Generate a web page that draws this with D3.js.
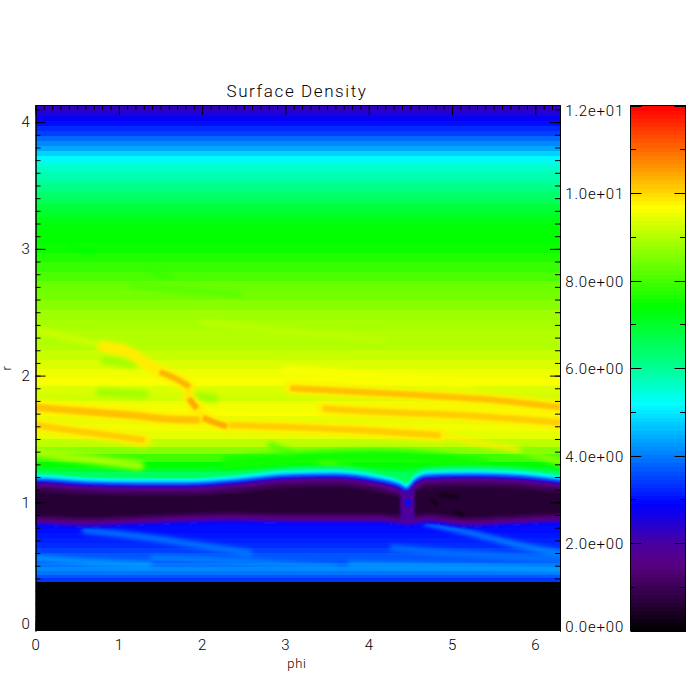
<!DOCTYPE html>
<html>
<head>
<meta charset="utf-8">
<script src="https://cdn.jsdelivr.net/npm/d3@7"></script>
<style>
  body { margin: 0; background: #fff; }
  text { font-family: "Roboto", "Liberation Sans", sans-serif; font-weight: 300; fill: #000; letter-spacing: 0.8px; }
</style>
</head>
<body>
<div id="chart"></div>
<script>
// Radial profile of the disc: lower edge of each band and its density.
var bandR = [4.09, 4.05, 4.01, 3.97, 3.93, 3.89, 3.85, 3.81, 3.77, 3.73, 3.69, 3.65, 3.61, 3.55, 3.5, 3.45, 3.4, 3.35, 3.3, 3.25, 3.2, 3.15, 3.05, 2.97, 2.9, 2.82, 2.75, 2.68, 2.6, 2.52, 2.44, 2.36, 2.28, 2.2, 2.12, 2.05, 1.98, 1.92, 1.86, 1.8, 1.74, 1.68, 1.62, 1.56, 1.5, 1.44, 1.38, 1.32, 1.28, 1.24, 1.0, 0.84, 0.8, 0.76, 0.72, 0.68, 0.64, 0.6, 0.56, 0.52, 0.49, 0.46, 0.43, 0.4, 0.375, -0.015];
var bandV = [2.3, 2.5, 2.8, 3.0, 3.3, 3.5, 3.8, 4.1, 4.4, 4.8, 5.2, 5.4, 5.6, 5.8, 6.0, 6.2, 6.4, 6.6, 6.8, 7.0, 7.2, 7.3, 7.4, 7.5, 7.7, 7.9, 8.1, 8.3, 8.4, 8.6, 8.8, 8.9, 9.0, 9.0, 9.2, 9.35, 9.6, 9.7, 9.4, 9.3, 9.6, 9.7, 9.5, 9.6, 9.5, 9.1, 8.6, 8.0, 7.4, 7.0, 6.6, 3.0, 3.0, 3.0, 3.1, 3.2, 3.3, 3.5, 3.7, 3.7, 3.9, 4.1, 3.9, 3.7, 3.4, 0];

// Gap around r = 1: blue edge lines per phi column.
var gapPhi = [-0.1, 0, 0.6, 1.2, 1.8, 2.4, 3.0, 3.6, 4.1, 4.38, 4.45, 4.55, 4.7, 5.2, 5.7, 6.3, 6.4];
var gapTop = [1.176, 1.176, 1.153, 1.145, 1.145, 1.168, 1.208, 1.216, 1.176, 1.129, 1.105, 1.168, 1.208, 1.216, 1.208, 1.168, 1.16];
var gapBottom = [0.813, 0.813, 0.798, 0.813, 0.829, 0.837, 0.829, 0.829, 0.829, 0.813, 0.806, 0.813, 0.829, 0.798, 0.813, 0.829, 0.829];
var gapLevelV = [6.5, 5.2, 4.0, 3.0, 2.4, 2.0, 1.5, 1.0, 0.7];
var gapInsetTop = [-0.075, -0.04, -0.02, 0, 0.012, 0.022, 0.035, 0.055, 0.09];
var gapInsetBottom = [0.05, 0.05, 0.05, 0, 0.012, 0.022, 0.04, 0.06, 0.085];

// Sharp spiral wakes.
var ridgePhi = [
  [0.81, 1.10, 1.29, 1.49], [1.49, 1.70, 1.85], [1.85, 1.82], [1.84, 1.94], [2.01, 2.15, 2.30],
  [0, 0.53, 1.13, 1.55, 1.97], [2.33, 3.18, 3.86, 4.86], [0, 0.41, 0.77, 1.31],
  [3.06, 4.46, 5.46, 6.30], [3.45, 4.26, 5.06, 6.30]
];
var ridgeR = [
  [2.23, 2.19, 2.11, 2.03], [2.03, 1.97, 1.91], [1.91, 1.82], [1.82, 1.74], [1.67, 1.63, 1.60],
  [1.75, 1.72, 1.69, 1.66, 1.65], [1.61, 1.59, 1.57, 1.53], [1.61, 1.57, 1.54, 1.49],
  [1.90, 1.85, 1.81, 1.75], [1.74, 1.71, 1.69, 1.63]
];
var ridgeV = [9.8, 10.3, 9.9, 10.4, 10.4, 10.2, 10.1, 10.1, 10.2, 10.1];
var ridgeW = [5, 6, 3, 6, 6, 7, 6, 6, 6, 6];
var ridgeHaloV = 9.8;

// Broad, low-contrast streaks around them.
var streakPhi = [
  [0.05, 0.41, 0.77], [4.86, 5.3, 5.85], [0.83, 1.19], [0.77, 1.31], [1.91, 2.15],
  [2.82, 3.54, 4.08], [0, 0.29, 0.77, 1.25], [5.85, 6.30], [2.3, 3.5, 4.5, 5.4],
  [0.41, 0.69], [1.37, 1.61], [1.17, 2.45], [3.0, 4.2, 5.2], [2.0, 3.0, 4.2],
  [4.68, 5.34, 5.82, 6.30], [0.59, 1.37, 1.97, 2.57], [0, 0.65, 1.37], [4.29, 4.98, 6.30], [3.78, 5.22, 6.30], [1.4, 2.6, 3.6]
];
var streakR = [
  [2.36, 2.30, 2.24], [1.53, 1.47, 1.41], [2.12, 2.09], [1.87, 1.85], [1.84, 1.82],
  [1.45, 1.29, 1.19], [1.40, 1.37, 1.33, 1.29], [1.41, 1.32], [1.31, 1.36, 1.36, 1.29],
  [3.03, 2.97], [2.83, 2.78], [2.71, 2.64], [2.05, 1.99, 1.93], [2.42, 2.35, 2.28],
  [0.84, 0.74, 0.66, 0.60], [0.78, 0.72, 0.66, 0.60], [0.56, 0.53, 0.51], [0.64, 0.60, 0.55], [0.51, 0.49, 0.47], [0.56, 0.53, 0.49]
];
var streakV = [9.3, 9.8, 8.8, 8.8, 8.8, 8.2, 8.9, 8.6, 7.5, 7.4, 7.9, 8.2, 9.7, 9.1, 4.2, 4.0, 4.4, 3.9, 4.3, 4.2];
var streakW = [5, 5, 8, 8, 8, 6, 9, 7, 12, 6, 5, 6, 7, 6, 5, 6, 5, 6, 5, 4];

// Planet inside the gap and the dark clumps behind it.
var planetPhi = 4.47, planetR = 0.995, planetV = 3;
var clumpPhi = [[4.87, 5.06], [4.75, 4.81], [5.05, 5.12]];
var clumpR = [[1.06, 1.04], [1.02, 0.99], [0.92, 0.90]];
var clumpV = 0.35;

// Colour table
var colorStops = [0, 0.5, 1, 1.5, 2, 2.9, 5.2, 6.2, 7.4, 9.7, 10.5, 12];
var colorValues = ["#000000", "#1e0028", "#3c0055", "#580080", "#4a00a0", "#0000ff", "#00ffff", "#00ff80", "#00ff00", "#ffff00", "#ffa000", "#ff0000"];

// Axis ticks
var phiTicks = [0, 1, 2, 3, 4, 5, 6];
var rTicks = [0, 1, 2, 3, 4];
var barTicks = [0, 2, 4, 6, 8, 10, 12];
var barTickLabels = ["0.0e+00", "2.0e+00", "4.0e+00", "6.0e+00", "8.0e+00", "1.0e+01", "1.2e+01"];
var barMinorTicks = [1, 3, 5, 7, 9, 11];

var left = 35.5, right = 560, top_ = 105, bottom = 631;
var barLeft = 630.5, barRight = 685.5;

var x = d3.scaleLinear().domain([0, 6.296]).range([left, right]);
var y = d3.scaleLinear().domain([-0.015, 4.135]).range([bottom, top_]);
var barY = d3.scaleLinear().domain([0, 12]).range([630.5, 105.5]);

var smooth = d3.scaleLinear().domain(colorStops).range(colorValues).interpolate(d3.interpolateRgb);
// The table is posterised, so snap every value to one of its levels
function color(v) {
  return smooth(Math.round(v / 12 * 128) / 128 * 12);
}

var svg = d3.select("#chart").append("svg")
  .attr("width", 700)
  .attr("height", 700);

var defs = svg.append("defs");
defs.append("clipPath").attr("id", "plot").append("rect")
  .attr("x", left).attr("y", top_).attr("width", right - left).attr("height", bottom - top_);
[["fine", 1.3], ["wide", 2.6]].forEach(function(f) {
  defs.append("filter").attr("id", f[0]).attr("filterUnits", "userSpaceOnUse")
    .attr("x", 0).attr("y", 0).attr("width", 700).attr("height", 700)
    .append("feGaussianBlur").attr("stdDeviation", f[1]);
});

var plot = svg.append("g").attr("clip-path", "url(#plot)");

// Radial bands
plot.selectAll("rect.band")
  .data(bandR)
  .enter().append("rect")
  .attr("class", "band")
  .attr("x", left)
  .attr("width", right - left)
  .attr("y", function(d, i) { return y(i == 0 ? 4.135 : bandR[i - 1]); })
  .attr("height", function(d, i) { return y(d) - y(i == 0 ? 4.135 : bandR[i - 1]) + 1; })
  .attr("fill", function(d, i) { return color(bandV[i]); })
  .attr("shape-rendering", "crispEdges");

var ridgeLine = d3.line()
  .x(function(d) { return x(d[0]); })
  .y(function(d) { return y(d[1]); })
  .curve(d3.curveCatmullRom);

// Broad streaks first
plot.append("g").attr("filter", "url(#wide)")
  .selectAll("path")
  .data(streakPhi)
  .enter().append("path")
  .attr("d", function(d, i) { return ridgeLine(d3.zip(d, streakR[i])); })
  .attr("fill", "none")
  .attr("stroke", function(d, i) { return color(streakV[i]); })
  .attr("stroke-width", function(d, i) { return streakW[i]; })
  .attr("stroke-linecap", "round");

// Yellow halo under each wake, then the wake itself
plot.append("g").attr("filter", "url(#wide)")
  .selectAll("path")
  .data(ridgePhi)
  .enter().append("path")
  .attr("d", function(d, i) { return ridgeLine(d3.zip(d, ridgeR[i])); })
  .attr("fill", "none")
  .attr("stroke", color(ridgeHaloV))
  .attr("stroke-width", function(d, i) { return ridgeW[i] + 7; })
  .attr("stroke-linecap", "round");

plot.append("g").attr("filter", "url(#fine)")
  .selectAll("path")
  .data(ridgePhi)
  .enter().append("path")
  .attr("d", function(d, i) { return ridgeLine(d3.zip(d, ridgeR[i])); })
  .attr("fill", "none")
  .attr("stroke", function(d, i) { return color(ridgeV[i]); })
  .attr("stroke-width", function(d, i) { return ridgeW[i]; })
  .attr("stroke-linecap", "butt");

// Gap, nested from the halo down to the darkest part
var gap = plot.append("g").attr("filter", "url(#fine)");
gapLevelV.forEach(function(v, k) {
  var area = d3.area()
    .defined(function(i) {
      // Below this level the gap splits in two lobes at the planet
      return v > 1.5 || gapPhi[i] < 4.4 || gapPhi[i] > 4.5;
    })
    .x(function(i) { return x(gapPhi[i]); })
    .y0(function(i) { return y(gapBottom[i] + gapInsetBottom[k]); })
    .y1(function(i) { return y(gapTop[i] - gapInsetTop[k]); })
    .curve(d3.curveMonotoneX);
  gap.append("path")
    .attr("d", area(d3.range(gapPhi.length)))
    .attr("fill", color(v));
});

gap.selectAll("path.clump")
  .data(clumpPhi)
  .enter().append("path")
  .attr("class", "clump")
  .attr("d", function(d, i) { return ridgeLine(d3.zip(d, clumpR[i])); })
  .attr("fill", "none")
  .attr("stroke", color(clumpV))
  .attr("stroke-width", 5)
  .attr("stroke-linecap", "round");

plot.append("circle")
  .attr("cx", x(planetPhi))
  .attr("cy", y(planetR))
  .attr("r", 3)
  .attr("fill", color(planetV));

// Axes, IDL style: ticks point inwards on all four sides
function drawAxis(maker, scale, values, size, tx, ty, labels) {
  var axis = maker(scale).tickValues(values).tickSize(-size).tickSizeOuter(0)
    .tickFormat(labels ? d3.format("d") : "");
  var g = svg.append("g").attr("transform", "translate(" + tx + "," + ty + ")").call(axis);
  g.selectAll("line").attr("stroke", "#000");
  g.select(".domain").attr("stroke", "#000");
  return g;
}

var phiMinor = d3.range(0, 6.3, 0.1);
var rMinor = d3.range(0, 4.13, 0.1);

drawAxis(d3.axisTop, x, phiMinor, 5, 0, top_, false);
drawAxis(d3.axisTop, x, phiTicks, 10, 0, top_, false);
drawAxis(d3.axisRight, y, rMinor, 5, right, 0, false);
drawAxis(d3.axisRight, y, rTicks, 10, right, 0, false);
drawAxis(d3.axisLeft, y, rMinor, 5, left, 0, false);
drawAxis(d3.axisBottom, x, phiTicks, 10, 0, bottom, true)
  .call(function(g) {
    g.selectAll("text").attr("font-size", 15).attr("y", 8);
    g.select(".domain").attr("stroke", "none");
  });
drawAxis(d3.axisLeft, y, rTicks, 10, left, 0, true)
  .call(function(g) {
    g.selectAll("text").attr("font-size", 15).attr("x", -5)
      .attr("dy", function(d) { return d == 0 ? "-0.02em" : "0.32em"; });
  });

// Colour bar
svg.append("g").selectAll("rect")
  .data(d3.range(128))
  .enter().append("rect")
  .attr("x", barLeft)
  .attr("width", barRight - barLeft)
  .attr("y", function(d) { return barY((d + 1) * 12 / 128); })
  .attr("height", function(d) { return barY(d * 12 / 128) - barY((d + 1) * 12 / 128) + 1; })
  .attr("fill", function(d) { return smooth((d + 0.5) * 12 / 128); })
  .attr("shape-rendering", "crispEdges");

svg.append("rect")
  .attr("x", barLeft).attr("y", barY(12))
  .attr("width", barRight - barLeft).attr("height", barY(0) - barY(12))
  .attr("fill", "none").attr("stroke", "#000");

var barG = svg.append("g");
function barTick(values, len, name) {
  barG.selectAll("line.l" + name)
    .data(values)
    .enter().append("line")
    .attr("class", "l" + name)
    .attr("x1", barLeft).attr("x2", barLeft + len)
    .attr("y1", function(d) { return Math.round(barY(d)) + 0.5; })
    .attr("y2", function(d) { return Math.round(barY(d)) + 0.5; })
    .attr("stroke", "#000");
  barG.selectAll("line.r" + name)
    .data(values)
    .enter().append("line")
    .attr("class", "r" + name)
    .attr("x1", barRight - len).attr("x2", barRight)
    .attr("y1", function(d) { return Math.round(barY(d)) + 0.5; })
    .attr("y2", function(d) { return Math.round(barY(d)) + 0.5; })
    .attr("stroke", "#000");
}
barTick(barTicks, 11, "major");
barTick(barMinorTicks, 5.5, "minor");

barG.selectAll("text")
  .data(barTicks)
  .enter().append("text")
  .attr("x", 624)
  .attr("y", function(d) {
    // End labels sit inside the bar's height
    if (d == 12) return barY(d) + 10;
    if (d == 0) return barY(d) + 1;
    return barY(d) + 6;
  })
  .attr("text-anchor", "end")
  .attr("font-size", 15)
  .text(function(d, i) { return barTickLabels[i]; });

// Titles
svg.append("text").attr("x", 297).attr("y", 97).attr("text-anchor", "middle")
  .attr("font-size", 17).style("letter-spacing", "1.6px").text("Surface Density");
svg.append("text").attr("x", 297).attr("y", 668).attr("text-anchor", "middle")
  .attr("font-size", 13).text("phi");
svg.append("text").attr("transform", "translate(11,368) rotate(-90)").attr("text-anchor", "middle")
  .attr("font-size", 13).text("r");
</script>
</body>
</html>
